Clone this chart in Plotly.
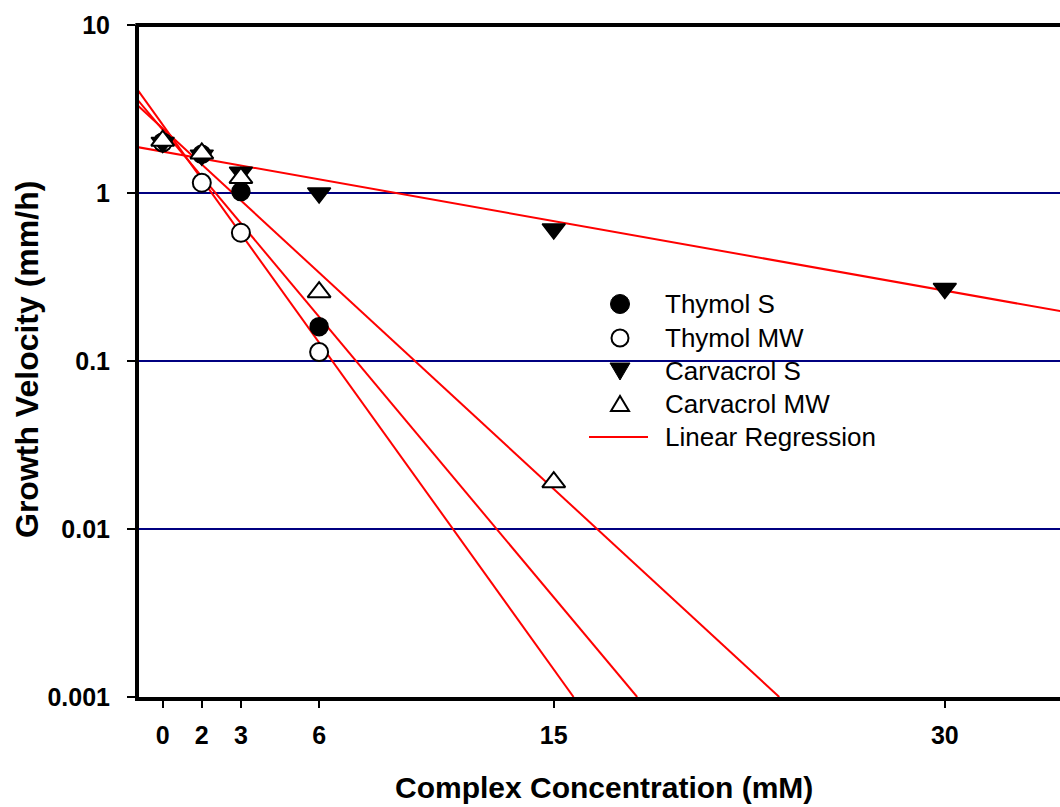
import plotly.graph_objects as go

# ---- data ----
x_ticks = [0, 1.5, 3, 6, 15, 30]
x_ticktext = ["0", "2", "3", "6", "15", "30"]
y_ticks = [0.001, 0.01, 0.1, 1, 10]
y_ticktext = ["0.001", "0.01", "0.1", "1", "10"]

thymol_s_x = [0, 1.5, 3, 6]
thymol_s_y = [2.0, 1.70, 1.02, 0.16]
thymol_mw_x = [0, 1.5, 3, 6]
thymol_mw_y = [2.0, 1.15, 0.58, 0.113]
carv_s_x = [0, 1.5, 3, 6, 15, 30]
carv_s_y = [2.0, 1.68, 1.33, 1.0, 0.61, 0.27]
carv_mw_x = [0, 1.5, 3, 6, 15]
carv_mw_y = [2.05, 1.72, 1.23, 0.257, 0.019]

# regression line end points (x, y)
reg_thymol_s_x = [-1, 18.2]
reg_thymol_s_y = [3.64, 0.001]
reg_thymol_mw_x = [-1, 15.76]
reg_thymol_mw_y = [4.19, 0.001]
reg_carv_s_x = [-1, 35]
reg_carv_s_y = [1.88, 0.191]
reg_carv_mw_x = [-1, 23.65]
reg_carv_mw_y = [3.37, 0.001]

legend_labels = ["Thymol S", "Thymol MW", "Carvacrol S", "Carvacrol MW", "Linear Regression"]

FONT = "Liberation Sans, Arial, sans-serif"
RED = "#ff0000"

fig = go.Figure()

for rx, ry in [(reg_thymol_s_x, reg_thymol_s_y), (reg_thymol_mw_x, reg_thymol_mw_y),
               (reg_carv_s_x, reg_carv_s_y), (reg_carv_mw_x, reg_carv_mw_y)]:
    fig.add_trace(go.Scatter(
        x=rx, y=ry, mode="lines", name="Linear Regression",
        line=dict(color=RED, width=2), showlegend=False, hoverinfo="skip"))

msize = 18
fig.add_trace(go.Scatter(
    x=thymol_s_x, y=thymol_s_y, mode="markers", name="Thymol S", showlegend=False,
    marker=dict(symbol="circle", size=msize, color="black",
                line=dict(color="black", width=1.5))))
fig.add_trace(go.Scatter(
    x=thymol_mw_x, y=thymol_mw_y, mode="markers", name="Thymol MW", showlegend=False,
    marker=dict(symbol="circle", size=msize, color="white",
                line=dict(color="black", width=2))))
fig.add_trace(go.Scatter(
    x=carv_s_x, y=carv_s_y, mode="markers", name="Carvacrol S", showlegend=False,
    marker=dict(symbol="triangle-down", size=msize + 2, color="black",
                line=dict(color="black", width=1.5))))
fig.add_trace(go.Scatter(
    x=carv_mw_x, y=carv_mw_y, mode="markers", name="Carvacrol MW", showlegend=False,
    marker=dict(symbol="triangle-up", size=msize + 2, color="white",
                line=dict(color="black", width=2))))

L, T, B = 139, 25, 110
W, H = 1060, 807
plot_w = W - L
plot_h = H - T - B
px_per_unit = 26.07
x0 = (L - 162.7) / px_per_unit
x1 = x0 + plot_w / px_per_unit


def px(xp):
    return (xp - L) / plot_w


def py(yp):
    return (H - B - yp) / plot_h


# ---- manual legend (layout only) ----
leg_rows = [304, 338, 371, 404, 437]
leg_sym_x = 620
leg_text_x = 663
shapes = [dict(type="line", xref="paper", yref="paper", x0=-0.004, x1=1, y0=1, y1=1,
               line=dict(color="black", width=4))]
annotations = []


def pix_shape(kind, yrow, **kw):
    d = dict(type=kind, xref="paper", yref="paper", xsizemode="pixel", ysizemode="pixel",
             xanchor=px(leg_sym_x), yanchor=py(yrow))
    d.update(kw)
    return d


shapes.append(pix_shape("circle", leg_rows[0], x0=-9.5, x1=9.5, y0=-9.5, y1=9.5,
                        fillcolor="black", line=dict(color="black", width=1)))
shapes.append(pix_shape("circle", leg_rows[1], x0=-8.5, x1=8.5, y0=-8.5, y1=8.5,
                        fillcolor="white", line=dict(color="black", width=2)))
shapes.append(pix_shape("path", leg_rows[2], path="M-10,8 L10,8 L0,-9 Z",
                        fillcolor="black", line=dict(color="black", width=1)))
shapes.append(pix_shape("path", leg_rows[3], path="M-9,-7 L9,-7 L0,8 Z",
                        fillcolor="white", line=dict(color="black", width=2)))
shapes.append(dict(type="line", xref="paper", yref="paper",
                   x0=px(589), x1=px(648), y0=py(leg_rows[4]), y1=py(leg_rows[4]),
                   line=dict(color=RED, width=2)))
for lab, yr in zip(legend_labels, leg_rows):
    annotations.append(dict(text=lab, xref="paper", yref="paper", x=px(leg_text_x), y=py(yr),
                            xanchor="left", yanchor="middle", showarrow=False,
                            font=dict(family=FONT, size=26, color="black")))

annotations.append(dict(text="Complex Concentration (mM)", xref="paper", yref="paper",
                        x=px(604), y=py(787), xanchor="center", yanchor="middle",
                        showarrow=False,
                        font=dict(family=FONT, size=30, weight="bold", color="black")))
annotations.append(dict(text="Growth Velocity (mm/h)", xref="paper", yref="paper",
                        x=px(27), y=py(360), xanchor="center", yanchor="middle",
                        textangle=-90, showarrow=False,
                        font=dict(family=FONT, size=32, weight="bold", color="black")))

fig.update_layout(
    width=W, height=H,
    margin=dict(l=L, r=0, t=T, b=B, autoexpand=False),
    paper_bgcolor="white", plot_bgcolor="white",
    font=dict(family=FONT, color="black"),
    showlegend=False,
    xaxis=dict(
        range=[x0, x1], tickvals=x_ticks, ticktext=x_ticktext,
        showgrid=False, zeroline=False,
        showline=True, linecolor="black", linewidth=4,
        ticks="outside", ticklen=7, tickwidth=2, tickcolor="black",
        tickfont=dict(family=FONT, size=25, weight="bold", color="black"),
        ticklabelstandoff=6,
    ),
    yaxis=dict(
        type="log", range=[-3, 1], tickvals=y_ticks, ticktext=y_ticktext,
        showgrid=True, gridcolor="#000080", gridwidth=2,
        zeroline=False,
        showline=True, linecolor="black", linewidth=4,
        ticks="outside", ticklen=8, tickwidth=2, tickcolor="black",
        tickfont=dict(family=FONT, size=25, weight="bold", color="black"),
        ticklabelstandoff=12,
    ),
    shapes=shapes,
    annotations=annotations,
)

fig.write_html("out.html")
